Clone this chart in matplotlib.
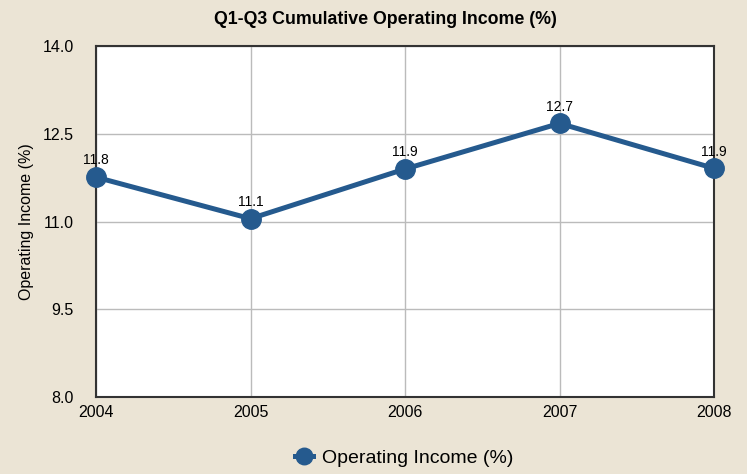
import matplotlib.pyplot as plt

years = [2004, 2005, 2006, 2007, 2008]
income = [11.76, 11.05, 11.9, 12.68, 11.91]
y_ticks = [8.0, 9.5, 11.0, 12.5, 14.0]

BG = '#ebe4d5'
LINE = '#255a8e'

plt.rcParams['font.family'] = ['Liberation Sans', 'DejaVu Sans']

fig = plt.figure(figsize=(7.47, 4.74), dpi=100, facecolor=BG)
ax = fig.add_axes([0.1285, 0.1625, 0.8275, 0.740])
ax.set_facecolor('white')

ax.plot(years, income, color=LINE, linewidth=3.6, marker='o', markersize=14,
        label='Operating Income (%)', zorder=3, clip_on=False)

for x, y in zip(years, income):
    ax.annotate(f'{y:.1f}', (x, y), xytext=(0, 7), textcoords='offset points',
                ha='center', va='bottom', fontsize=10, zorder=4)

ax.set_xlim(2004, 2008)
ax.set_ylim(8.0, 14.0)
ax.set_xticks(years)
ax.set_xticklabels([str(y) for y in years])
ax.set_yticks(y_ticks)
ax.set_yticklabels([f'{t:.1f}' for t in y_ticks])
ax.tick_params(axis='y', length=0, pad=16, labelsize=11.5)
ax.tick_params(axis='x', length=0, pad=6, labelsize=11.5)
ax.grid(True, color='#bbbbbb', linewidth=1)
ax.set_axisbelow(True)
for s in ax.spines.values():
    s.set_color('#333333')
    s.set_linewidth(1.5)

ax.set_ylabel('Operating Income (%)', fontsize=11.5)
ax.yaxis.set_label_coords(-0.1, 0.5)
fig.text(385 / 747, 1 - 19 / 474, 'Q1-Q3 Cumulative Operating Income (%)',
         ha='center', va='center', fontsize=12.8, fontweight='bold')

ax.legend(loc='upper center', bbox_to_anchor=(0.499, -0.1), frameon=False,
          fontsize=14, handlelength=0.9, handletextpad=0.5, markerscale=0.85)

plt.savefig('out.png', dpi=100, facecolor=BG)
